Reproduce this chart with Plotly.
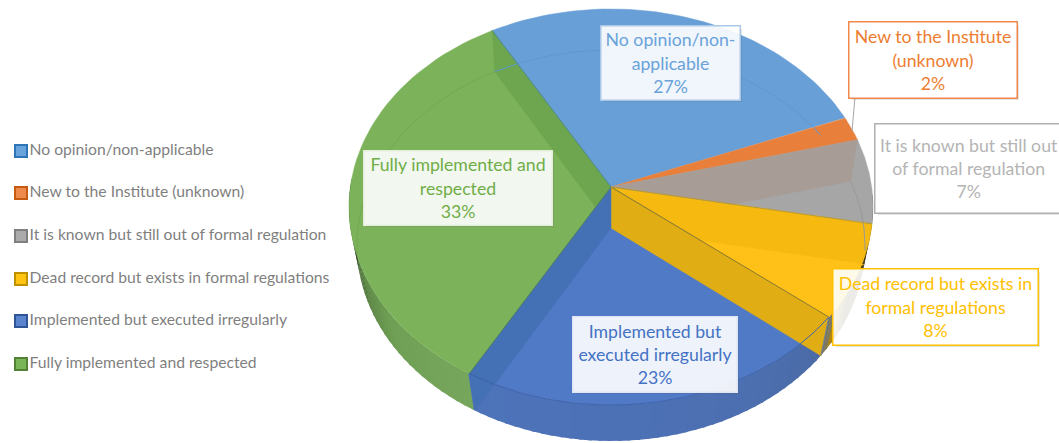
import math
import plotly.graph_objects as go

# ---- data ----
categories = ["No opinion/non-applicable", "New to the Institute (unknown)",
              "It is known but still out of formal regulation",
              "Dead record but exists in formal regulations",
              "Implemented but executed irregularly", "Fully implemented and respected"]
values = [27.2, 2.0, 6.9, 7.7, 22.5, 33.4]
label_lines = [["No opinion/non-", "applicable", "27%"],
               ["New to the Institute", "(unknown)", "2%"],
               ["It is known but still out", "of formal regulation", "7%"],
               ["Dead record but exists in", "formal regulations", "8%"],
               ["Implemented but", "executed irregularly", "23%"],
               ["Fully implemented and", "respected", "33%"]]
face_colors = ["#689fd7", "#e8803c", "#a6a6a6", "#f5b90f", "#5079c6", "#7cb35a"]
text_colors = ["#6aa2da", "#ed7d31", "#b4b4b4", "#ffc000", "#4472c4", "#70ad47"]
border_colors = ["#a9c8e8", "#f0894a", "#b0b0b0", "#ffc000", "#dfe6f5", "#e4eedd"]
legend_inner = ["#69a3dc", "#ee8a4c", "#ababab", "#ffc512", "#5b84cf", "#7ab557"]
legend_edge = ["#2e75b6", "#c55a11", "#7f7f7f", "#bf9000", "#2f5597", "#548235"]
# label boxes: left, top, right, bottom
boxes = [(601, 26, 739, 99), (849, 22, 1016, 97), (875, 124, 1062, 212),
         (833, 269, 1037, 344), (573, 317, 736, 391), (364, 151, 551, 224)]
legend_y = [151, 193, 236, 279, 321, 364]

START = -29.7
TOP = (611, 207, 262, 198, 0.101)
BOT = (611, 245.5, 254, 195.5, 0.09)

cum = [START]
for v in values:
    cum.append(cum[-1] + v * 360 / sum(values))


def pt(theta, plane, r=1.0):
    cx, cy, a, b, d = plane
    u, v = r * math.sin(math.radians(theta)), r * math.cos(math.radians(theta))
    den = 1 + d * v
    return (cx + a * u * math.sqrt(1 - d * d) / den, cy - b * (v + d) / den)


def arc(t0, t1, plane, n=60):
    return [pt(t0 + (t1 - t0) * i / n, plane) for i in range(n + 1)]


def cross(p1, p2, p3, p4):
    x1, y1 = p1; x2, y2 = p2; x3, y3 = p3; x4, y4 = p4
    den = (x1 - x2) * (y3 - y4) - (y1 - y2) * (x3 - x4)
    t = ((x1 - x3) * (y3 - y4) - (y1 - y3) * (x3 - x4)) / den
    return (x1 + t * (x2 - x1), y1 + t * (y2 - y1))


fig = go.Figure()


def poly(pts, color, w=0.5):
    xs = [p[0] for p in pts] + [pts[0][0]]
    ys = [p[1] for p in pts] + [pts[0][1]]
    fig.add_trace(go.Scatter(x=xs, y=ys, mode="lines", fill="toself", fillcolor=color,
                             line=dict(color=color, width=w), hoverinfo="skip", showlegend=False))


def line(pts, color, w=1):
    fig.add_trace(go.Scatter(x=[p[0] for p in pts], y=[p[1] for p in pts], mode="lines",
                             line=dict(color=color, width=w), hoverinfo="skip", showlegend=False))


def lerp(stops, t):
    for (t0, c0), (t1, c1) in zip(stops, stops[1:]):
        if t <= t1:
            f = max(0, (t - t0) / (t1 - t0))
            a = [int(c0[i:i + 2], 16) for i in (1, 3, 5)]
            b = [int(c1[i:i + 2], 16) for i in (1, 3, 5)]
            return "#%02x%02x%02x" % tuple(round(x + (y - x) * f) for x, y in zip(a, b))
    return stops[-1][1]


wall_stops = [(92, "#2a2a10"), (120, "#4a3c10"), (cum[4] - 3, "#b98d12"), (cum[4], "#4a6aa5"),
              (150, "#4c6fb0"), (cum[5], "#4d73ba"), (cum[5] + 0.2, "#76a65c"), (232, "#70a055"),
              (245, "#5f8a48"), (255, "#3f5f30"), (262, "#2a3c22"), (272, "#1f3020")]
# outer wall
t = 92.0
while t < 272:
    t2 = t + 2
    poly(arc(t, t2 + 0.6, TOP, 2) + arc(t2 + 0.6, t, BOT, 2), lerp(wall_stops, t + 1), w=0)
    t = t2

# top faces
apex_t, apex_b = pt(0, TOP, 0), pt(0, BOT, 0)
for i, c in enumerate(face_colors):
    poly([apex_t] + arc(cum[i], cum[i + 1], TOP), c)

# walls and floor seen through the glassy top
g0, o1, gy, yb, bg = cum[0], cum[2], cum[3], cum[4], cum[5]
x_brown = cross(apex_b, pt(o1, BOT), apex_t, pt(gy, TOP))
poly([apex_t, pt(o1, TOP), pt(o1, BOT), x_brown], "#a89d96")
x_yellow = cross(apex_b, pt(gy, BOT), apex_t, pt(yb, TOP))
edge_y = pt(gy, BOT)[1]
t_start = next(a / 2 for a in range(int(gy * 2), int(yb * 2)) if pt(a / 2, TOP)[1] > edge_y)
poly([x_yellow, pt(gy, BOT)] + arc(t_start, yb, TOP, 20), "#ffc118")
poly([apex_t, apex_b, pt(yb, BOT), pt(yb, TOP)], "#e0ae14")
poly([apex_t, apex_b, pt(bg, BOT), pt(bg, TOP)], "#4470b6")
x_green = cross(pt(g0, BOT), apex_b, apex_t, pt(bg, TOP))
poly([apex_t, pt(g0, TOP), pt(g0, BOT), x_green], "#6da64e")

# rim and floor arcs
line(arc(g0 + 360 - 68, g0 + 360, BOT), "#72a851")
line(arc(g0, 60, BOT), "#5f98d1")
line(arc(o1, gy - 4, BOT), "#9a9a9a")
line(arc(yb, bg, TOP), "#3f62aa")
line([apex_t, pt(yb, TOP)], "#8c7a30")
line([apex_t, pt(bg, TOP)], "#4d7f60")
line([apex_t, pt(g0, TOP)], "#4d88a0")
line([apex_t, pt(gy, TOP)], "#b89a30")
line([pt(yb, TOP), pt(yb, BOT)], "#6f7f90")

# leader from the 2% label
line([(855, 97), (852, 131)], "#a6a6a6", 1)

# legend, as markers with real text
for i, cat in enumerate(categories):
    fig.add_trace(go.Scatter(x=[21], y=[legend_y[i]], mode="markers+text", text=[cat],
                             textposition="middle right",
                             textfont=dict(family="Lato", size=15.7, color="#7f7f7f"),
                             marker=dict(symbol="square", size=12, color=legend_inner[i],
                                         line=dict(color=legend_edge[i], width=2)),
                             hoverinfo="skip", showlegend=False))

shapes, annotations = [], []
for (x0, y0, x1, y1), lines, tc, bc in zip(boxes, label_lines, text_colors, border_colors):
    shapes.append(dict(type="path", layer="above", line=dict(width=0), fillcolor="rgba(90,90,90,0.16)",
                       path=f"M{x1},{y0+3} L{x1+3},{y0+3} L{x1+3},{y1+3} L{x0+3},{y1+3} L{x0+3},{y1} L{x1},{y1} Z"))
    annotations.append(dict(x=(x0 + x1) / 2, y=(y0 + y1) / 2, xref="x", yref="y", showarrow=False,
                            width=x1 - x0, height=y1 - y0, align="center", valign="middle",
                            text="<br>".join(lines), font=dict(family="Lato", size=17.7, color=tc),
                            bgcolor="rgba(255,255,255,0.90)", bordercolor=bc, borderwidth=1.5, borderpad=0))

fig.update_layout(width=1059, height=443, margin=dict(l=0, r=0, t=0, b=0),
                  plot_bgcolor="white", paper_bgcolor="white", showlegend=False,
                  xaxis=dict(range=[0, 1059], visible=False, fixedrange=True),
                  yaxis=dict(range=[443, 0], visible=False, fixedrange=True),
                  shapes=shapes, annotations=annotations)
fig.write_html("out.html", config=dict(displayModeBar=False),
               post_script="document.body.style.margin='0';")
